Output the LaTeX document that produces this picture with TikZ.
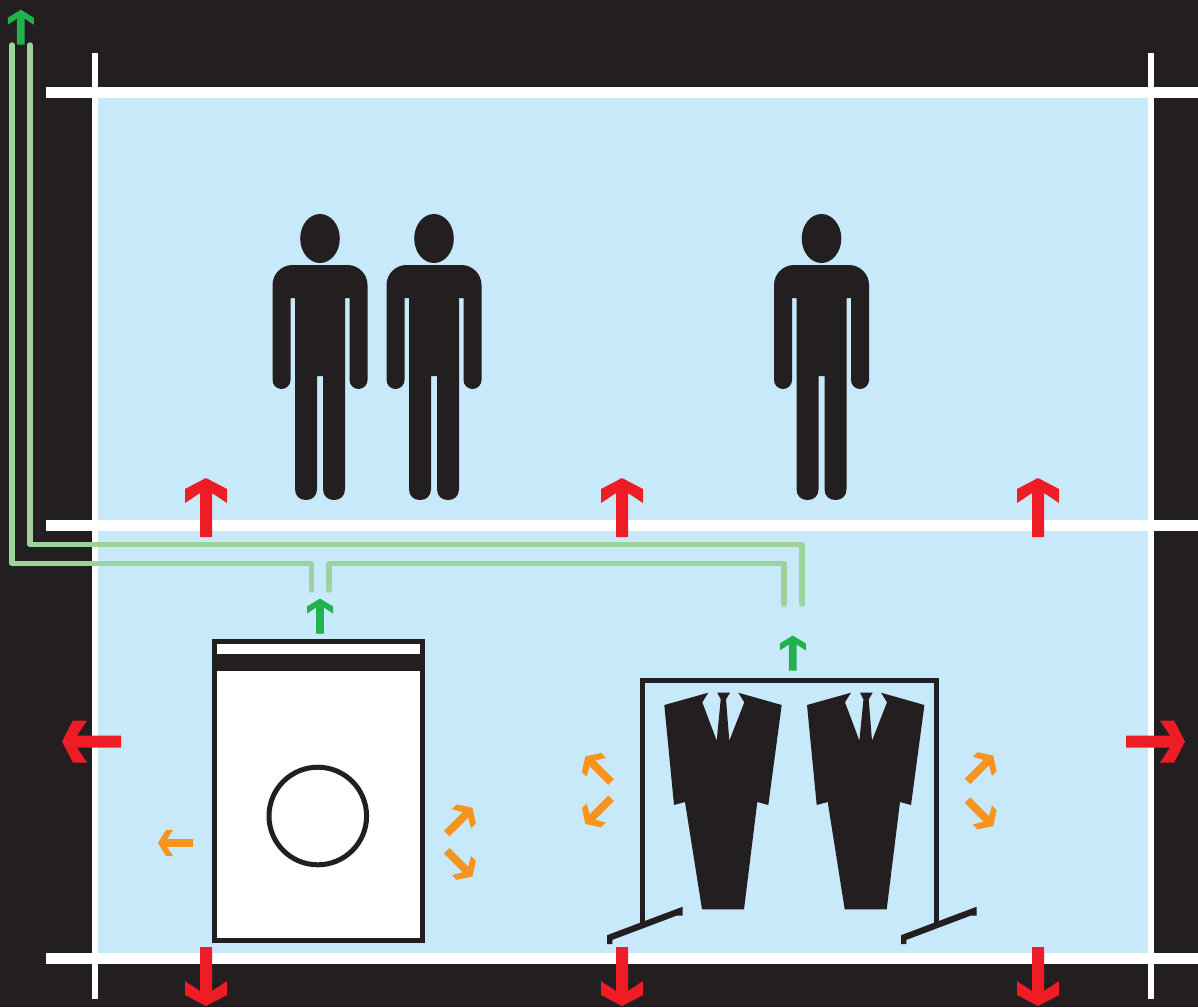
\documentclass[tikz,border=0pt]{standalone}
\definecolor{ink}{HTML}{231F20}
\definecolor{room}{HTML}{C7E9FA}
\definecolor{duct}{HTML}{9CD29C}
\definecolor{redarrow}{HTML}{EE1C25}
\definecolor{greenarrow}{HTML}{22B24C}
\definecolor{orangearrow}{HTML}{F7941D}
\tikzset{
  wall/.style={fill=white},
  ductline/.style={draw=duct,line width=5.4pt,line cap=round,line join=round},
  machine/.style={draw=ink,line width=5pt},
  bigarrow/.pic={\fill (0,0) -- (-11,21) -- (-25,21) -- (-15,6) -- (-59,6) -- (-59,-6) -- (-15,-6) -- (-25,-21) -- (-11,-21) -- cycle;},
  smallarrow/.pic={\fill (0,0) -- (-8,13) -- (-15,13) -- (-9,3.9) -- (-35,3.9) -- (-35,-3.9) -- (-9,-3.9) -- (-15,-13) -- (-8,-13) -- cycle;},
  diagarrow/.pic={\fill (0,0) -- (-8.8,13.5) -- (-15.5,13.5) -- (-10,3.9) -- (-36.5,3.9) -- (-36.5,-3.9) -- (-10,-3.9) -- (-15.5,-13.5) -- (-8.8,-13.5) -- cycle;},
  person/.pic={
    \fill[ink] (0,238.5) ellipse [x radius=19.8,y radius=24.5];
    \fill[ink] (-47.5,285) .. controls (-47.5,274) and (-38.5,265) .. (-27.5,265) -- (27.5,265)
      .. controls (38.5,265) and (47.5,274) .. (47.5,285) -- (47.5,380)
      .. controls (47.5,385) and (43.5,389) .. (38.5,389) .. controls (33.5,389) and (29.5,385) .. (29.5,380)
      -- (29.5,298) -- (25,298) -- (25,489)
      .. controls (25,496) and (20.5,500) .. (14,500) .. controls (7.5,500) and (3,496) .. (3,489)
      -- (3,376) -- (-3,376) -- (-3,489)
      .. controls (-3,496) and (-7.5,500) .. (-14,500) .. controls (-20.5,500) and (-25,496) .. (-25,489)
      -- (-25,298) -- (-29.5,298) -- (-29.5,380)
      .. controls (-29.5,385) and (-33.5,389) .. (-38.5,389) .. controls (-43.5,389) and (-47.5,385) .. (-47.5,380)
      -- cycle;
  },
  suit/.pic={
    \fill[ink] (64.3,35) -- (108.3,22.7) -- (102.3,32.3) -- (116.7,70.7) -- (120.7,29.3) -- (117.3,22.7)
      -- (130,22.7) -- (126,29.3) -- (129.3,70.7) -- (144.3,32.3) -- (138.3,22.7) -- (181.7,35)
      -- (168.3,135) -- (157.3,132) -- (144,239.3) -- (102,239.3) -- (85,132) -- (74,135) -- cycle;
  },
  rackfoot/.pic={
    \fill[ink] (0,-0.5) -- (75.7,-29) -- (75.7,-20.2) -- (70,-20.2) -- (5.3,4.2) -- (5.3,8.3) -- (0,8.3) -- cycle;
  }
}
\begin{document}
\begin{tikzpicture}[x=1pt,y=-1pt]
\useasboundingbox (0,0) rectangle (1198,1007);
\fill[ink] (0,0) rectangle (1198,1007);
\fill[room] (95,93) rectangle (1150,958);
% walls
\fill[wall] (46,87.3) rectangle (1198,98.4);
\fill[wall] (46,519.8) rectangle (1198,530.8);
\fill[wall] (46,952.8) rectangle (1198,963.6);
\fill[wall] (92.2,52.5) rectangle (97.8,998.5);
\fill[wall] (1148,52.5) rectangle (1153.6,998.5);
% people
\pic at (320,0) {person};
\pic at (434,0) {person};
\pic at (821.5,0) {person};
% ducts
\draw[ductline] (12,45) -- (12,563.4) -- (311.4,563.4) -- (311.4,590);
\draw[ductline] (30,45) -- (30,544.7) -- (802,544.7) -- (802,604);
\draw[ductline] (329,590) -- (329,563.4) -- (784,563.4) -- (784,604);
% washer
\draw[machine,fill=white] (214.5,641) rectangle (422.5,940.5);
\fill[ink] (214.5,654) rectangle (422.5,670.7);
\draw[machine] (317.8,816) circle [radius=48.8];
% rack
\draw[machine,line cap=rect] (642.5,923) -- (642.5,680) -- (936.8,680) -- (936.8,923);
\pic at (607,935.7) {rackfoot};
\pic at (901,935.7) {rackfoot};
\pic at (600,670) {suit};
\pic at (742.7,670) {suit};
% red arrows
\begin{scope}[redarrow]
\pic[rotate=90] at (206,478) {bigarrow};
\pic[rotate=90] at (622,478) {bigarrow};
\pic[rotate=90] at (1038,478) {bigarrow};
\pic[rotate=-90] at (206,1006) {bigarrow};
\pic[rotate=-90] at (622,1006) {bigarrow};
\pic[rotate=-90] at (1038,1006) {bigarrow};
\pic[rotate=180] at (62,741.5) {bigarrow};
\pic[rotate=0] at (1185,741.5) {bigarrow};
\end{scope}
% green arrows
\begin{scope}[greenarrow]
\pic[rotate=90] at (20.8,9.7) {smallarrow};
\pic[rotate=90] at (320,598.5) {smallarrow};
\pic[rotate=90] at (792.8,635.5) {smallarrow};
\end{scope}
% orange arrows
\begin{scope}[orangearrow]
\pic[rotate=180] at (158,843) {smallarrow};
\pic[rotate=45] at (472.5,807.8) {diagarrow};
\pic[rotate=-45] at (472.5,876.5) {diagarrow};
\pic[rotate=135] at (585.3,756.3) {diagarrow};
\pic[rotate=225] at (585.3,824) {diagarrow};
\pic[rotate=45] at (993.3,755.5) {diagarrow};
\pic[rotate=-45] at (993.3,826) {diagarrow};
\end{scope}
\end{tikzpicture}
\end{document}
